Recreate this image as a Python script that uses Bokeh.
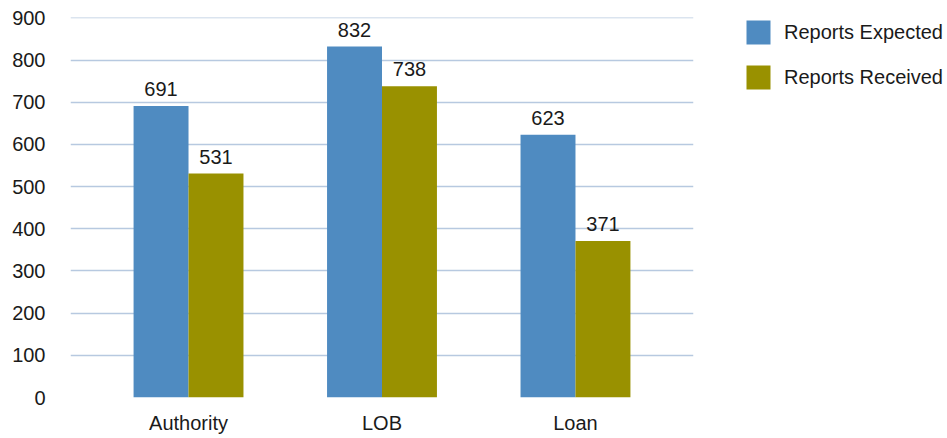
from bokeh.plotting import figure
from bokeh.models import ColumnDataSource, FactorRange, Range1d, FixedTicker, LabelSet, Legend, LegendItem
from bokeh.transform import dodge
from bokeh.core.properties import value
from bokeh.embed import file_html
from bokeh.resources import INLINE

categories = ["Authority", "LOB", "Loan"]
expected = [691, 832, 623]
received = [531, 738, 371]
y_ticks = [0, 100, 200, 300, 400, 500, 600, 700, 800, 900]
series_names = ["Reports Expected", "Reports Received"]

BLUE = "#4f8bc1"
OLIVE = "#999100"
FONT = "Liberation Sans"
FS = "20px"

src = ColumnDataSource(dict(
    cat=categories,
    expected=expected,
    received=received,
    exp_lbl=[str(v) for v in expected],
    rec_lbl=[str(v) for v in received],
))

p = figure(
    x_range=FactorRange(factors=categories, range_padding=0.11, range_padding_units="absolute"),
    y_range=Range1d(0, 901),
    frame_width=623, frame_height=380,
    output_backend="svg", toolbar_location=None,
    min_border_left=70, min_border_right=0, min_border_top=17, min_border_bottom=41,
)

bw = 0.284
r1 = p.vbar(x=dodge("cat", -bw / 2, range=p.x_range), top="expected", width=bw, source=src,
            fill_color=BLUE, line_color=None)
r2 = p.vbar(x=dodge("cat", bw / 2, range=p.x_range), top="received", width=bw, source=src,
            fill_color=OLIVE, line_color=None)

for col, lbl, off in (("expected", "exp_lbl", -bw / 2), ("received", "rec_lbl", bw / 2)):
    ls = LabelSet(x=dodge("cat", off, range=p.x_range), y=col, text=lbl, source=src,
                  text_align="center", text_baseline="alphabetic", y_offset=10,
                  text_font=value(FONT), text_font_size=value(FS), text_color="#1a1a1a")
    p.add_layout(ls)

p.outline_line_color = None
p.xgrid.grid_line_color = None
p.ygrid.grid_line_color = "#b7c9e0"
p.ygrid.grid_line_width = 1.5
p.yaxis.ticker = FixedTicker(ticks=y_ticks)

for ax in (p.xaxis[0], p.yaxis[0]):
    ax.axis_line_color = None
    ax.major_tick_line_color = None
    ax.minor_tick_line_color = None
    ax.major_label_text_font = FONT
    ax.major_label_text_font_size = FS
    ax.major_label_text_color = "#1a1a1a"
p.yaxis.major_label_standoff = 19
p.xaxis.major_label_standoff = 8

legend = Legend(
    items=[LegendItem(label=series_names[0], renderers=[r1]),
           LegendItem(label=series_names[1], renderers=[r2])],
    location="top_left",
    title=" ", title_location="left", title_text_font_size="10px", title_standoff=39,
    glyph_width=30, glyph_height=30, label_height=30, spacing=15,
    label_standoff=11, padding=0, margin=0,
    border_line_color=None, background_fill_alpha=0,
    label_text_font=FONT, label_text_font_size=FS, label_text_color="#1a1a1a",
)
p.add_layout(legend, "right")

open("out.html", "w").write(file_html(p, INLINE))
